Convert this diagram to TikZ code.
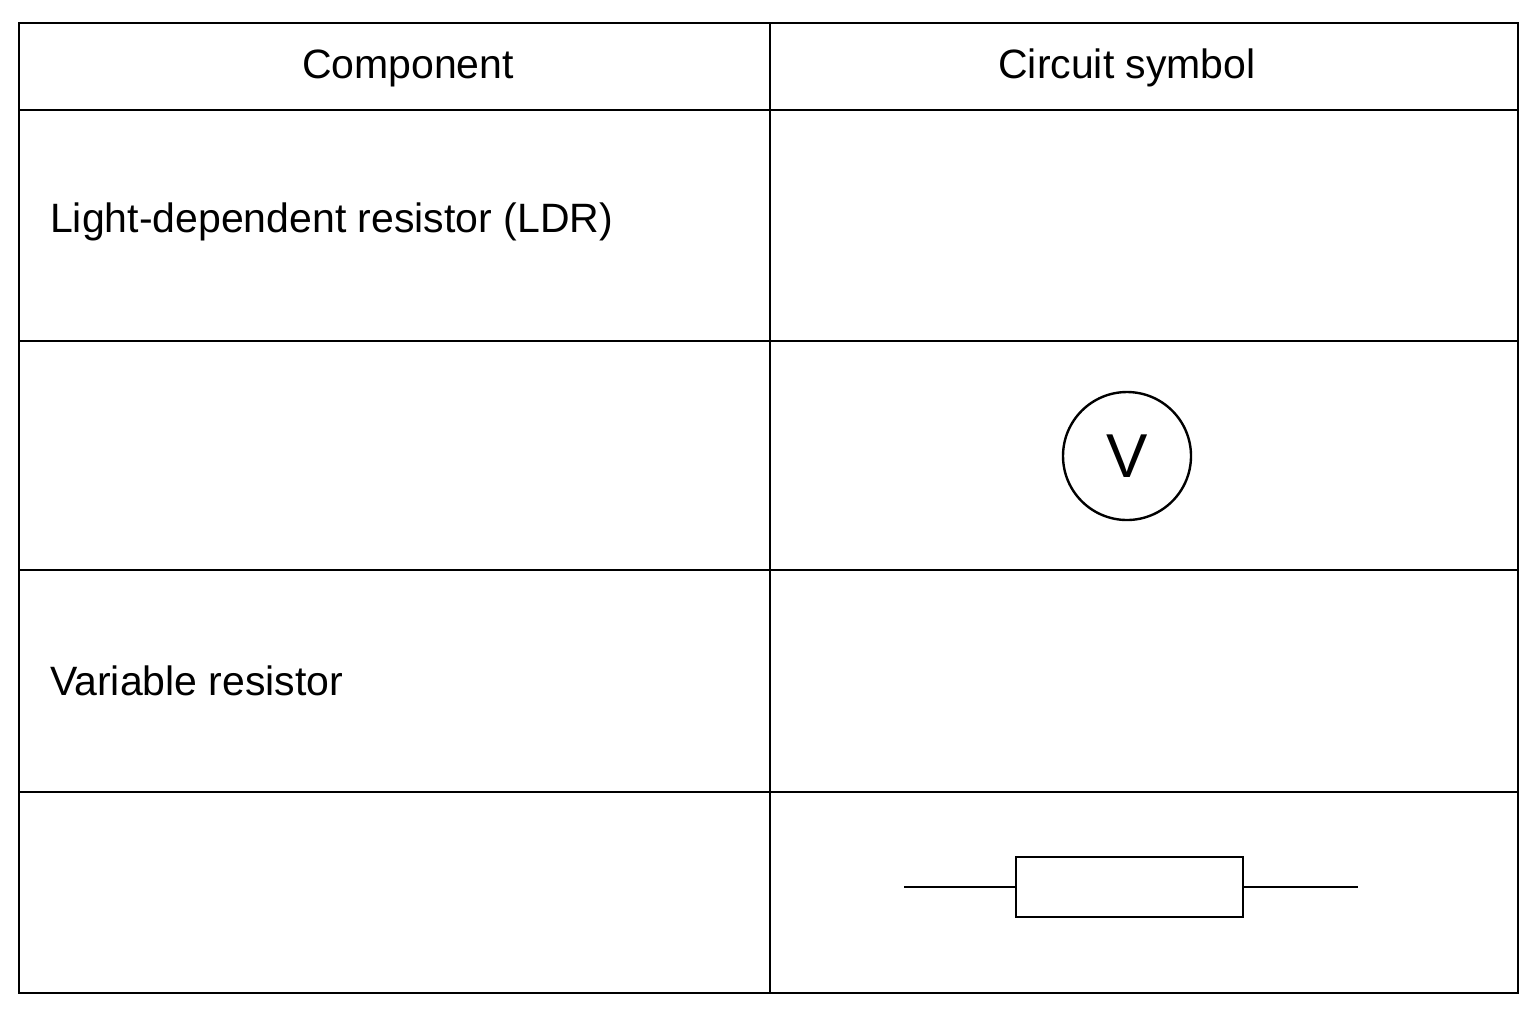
\documentclass[tikz,border=0pt]{standalone}
\usepackage{fontspec}
\setmainfont{Liberation Sans}
\begin{document}
\begin{tikzpicture}[x=0.5pt,y=-0.5pt,line width=1.2pt,
  lbl/.style={font=\fontsize{20.5}{24}\selectfont,inner sep=0pt}]
\useasboundingbox (0,0) rectangle (1536,1024);
\draw (19,23) rectangle (1518,993);
\draw (770,23) -- (770,993);
\foreach \y in {110,341,570,792} \draw (19,\y) -- (1518,\y);
\node[lbl] (h1) at (408,68) {Component};
\node[lbl] (h2) at (1127,68) {Circuit symbol};
\node[lbl,anchor=west] (ldr) at (49,222) {Light-dependent resistor (LDR)};
\node[lbl,anchor=west] (var) at (49,681) {Variable resistor};
\node[draw,circle,minimum size=64pt,inner sep=0pt,font=\fontsize{31}{36}\selectfont] (vm) at (1127,456) {V};
\node[draw,rectangle,minimum width=113.5pt,minimum height=30pt,inner sep=0pt] (res) at (1129.5,887) {};
\coordinate (rl) at (904,887);
\coordinate (rr) at (1358,887);
\draw (rl) -- (res.west);
\draw (res.east) -- (rr);
\end{tikzpicture}
\end{document}
